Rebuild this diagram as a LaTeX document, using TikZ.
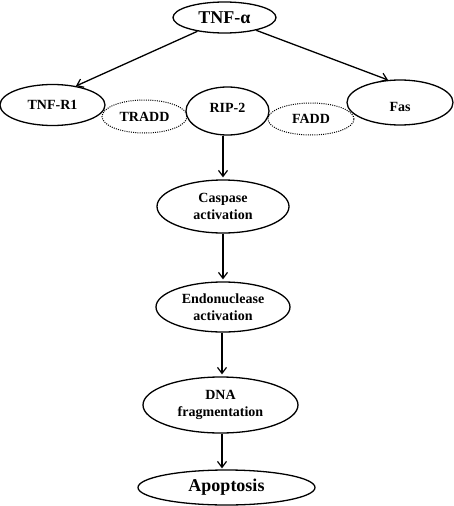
\documentclass[tikz,border=0pt]{standalone}
\usepackage{fontspec}
\setmainfont{Liberation Serif}
\usetikzlibrary{shapes.geometric,arrows.meta}
\tikzset{
  oval/.style={ellipse, draw, line width=1.3pt, inner sep=0pt, align=center,
    font=\bfseries\fontsize{14}{17.5}\selectfont},
  bigoval/.style={oval, font=\bfseries\fontsize{18}{21}\selectfont},
  dotoval/.style={oval, line width=1pt, dash pattern=on 1pt off 1.2pt},
  arr/.style={line width=1.3pt, -{Straight Barb[length=6pt,width=9pt,line width=1.2pt]}},
}
\begin{document}
\begin{tikzpicture}[x=1pt,y=-1pt]
\useasboundingbox (0,0) rectangle (454,506);
\node[bigoval, minimum width=103pt, minimum height=31pt] (tnf) at (224.5,17.5) {TNF-α};
\node[oval, minimum width=105pt, minimum height=41pt] (r1) at (52.5,105) {TNF-R1};
\node[dotoval, minimum width=85pt, minimum height=33pt] (tradd) at (144.5,116.5) {TRADD};
\node[oval, minimum width=83pt, minimum height=48pt] (rip) at (227.5,111) {\raisebox{3.5pt}[\height][\depth]{RIP-2}};
\node[dotoval, minimum width=86pt, minimum height=32pt] (fadd) at (311,119) {FADD};
\node[oval, minimum width=106pt, minimum height=45pt] (fas) at (400,102.5) {\raisebox{-4.5pt}[\height][\depth]{Fas}};
\node[oval, minimum width=132pt, minimum height=53pt] (casp) at (223,206.5) {Caspase\\activation};
\node[oval, minimum width=134pt, minimum height=50pt] (endo) at (223,307) {Endonuclease\\activation};
\node[oval, minimum width=155pt, minimum height=56pt] (dna) at (220.5,405) {DNA\\fragmentation};
\node[bigoval, minimum width=177pt, minimum height=35pt] (apo) at (226.5,487.5) {Apoptosis};

\draw[arr] (tnf.207) -- (r1.39);
\draw[arr] (tnf.338) -- (fas.118);
\draw[arr, shorten >=2pt] (casp.north |- rip.south) -- (casp.north);
\draw[arr, shorten >=2pt] (casp.south) -- (endo.north);
\draw[arr, shorten >=2pt] (endo.south -| 222,0) -- (dna.north -| 222,0);
\draw[arr, shorten >=1pt] (dna.south -| 222,0) -- (apo.north -| 222,0);
\end{tikzpicture}
\end{document}
